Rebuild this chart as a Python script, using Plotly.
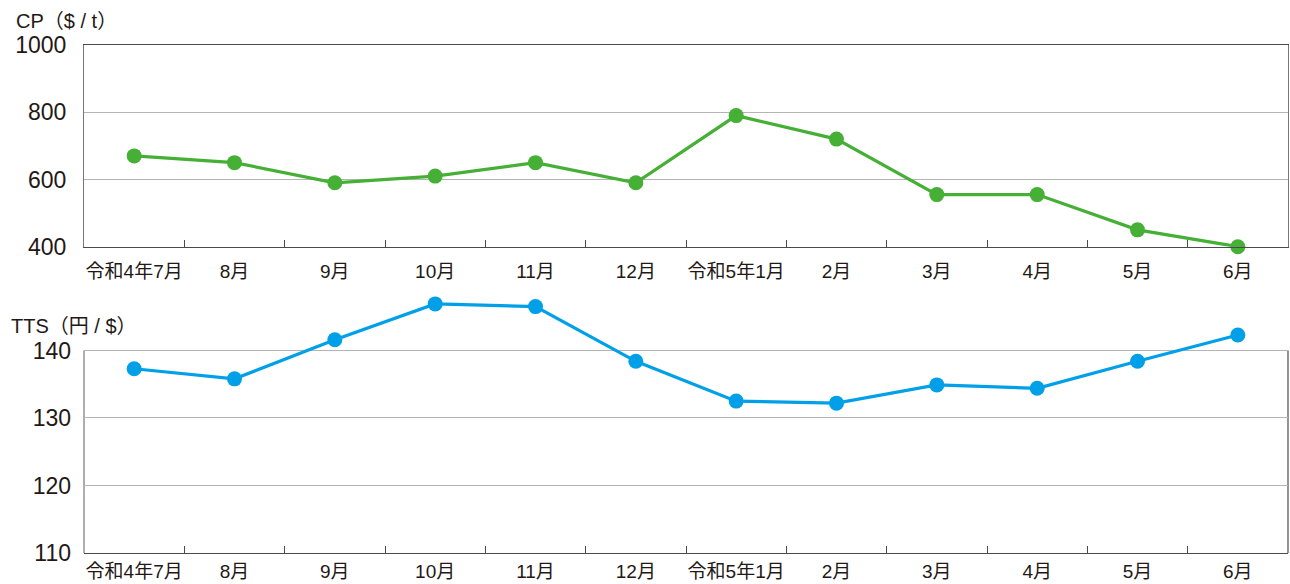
import plotly.graph_objects as go

months = ["令和4年7月", "8月", "9月", "10月", "11月", "12月",
          "令和5年1月", "2月", "3月", "4月", "5月", "6月"]
cp_values = [670, 650, 590, 610, 650, 590, 790, 720, 555, 555, 450, 400]
tts_values = [137.3, 135.8, 141.6, 146.9, 146.5, 138.4, 132.5, 132.2, 134.9, 134.4, 138.4, 142.3]
cp_ticks = [400, 600, 800, 1000]
tts_ticks = [110, 120, 130, 140]

GREEN = "#45b035"
BLUE = "#00a0e9"
TXT = "#231815"
FONT = "Liberation Sans, Arial, Noto Sans CJK JP"
GRID = "#b4b4b4"
DARK = "#4a4a4a"

fig = go.Figure()

fig.add_trace(go.Scatter(
    x=months, y=cp_values, xaxis="x", yaxis="y", mode="lines+markers",
    line=dict(color=GREEN, width=3.2), marker=dict(color=GREEN, size=15),
    cliponaxis=False, showlegend=False, hoverinfo="x+y"))

fig.add_trace(go.Scatter(
    x=months, y=tts_values, xaxis="x2", yaxis="y2", mode="lines+markers",
    line=dict(color=BLUE, width=3.2), marker=dict(color=BLUE, size=15),
    cliponaxis=False, showlegend=False, hoverinfo="x+y"))

xcommon = dict(type="category", range=[-0.5, 11.5], tickson="boundaries",
               ticks="inside", ticklen=7, tickcolor=DARK, showgrid=False,
               showline=True, linecolor=DARK, linewidth=1.2, tickangle=0,
               tickfont=dict(family=FONT, size=19, color=TXT),
               automargin=False, fixedrange=True)

ycommon = dict(showgrid=True, gridcolor=GRID, gridwidth=1.2, ticks="",
               ticklabelstandoff=12, automargin=False,
               tickfont=dict(family=FONT, size=23, color=TXT), fixedrange=True)

fig.update_layout(
    width=1290, height=584,
    margin=dict(l=84, r=2, t=45, b=31),
    paper_bgcolor="white", plot_bgcolor="white",
    xaxis=dict(**xcommon, domain=[0, 1], anchor="y", mirror=True, ticklabelstandoff=7),
    yaxis=dict(**ycommon, domain=[0.603, 1], range=[400, 1000], tickvals=cp_ticks,
               showline=True, linecolor="#777", linewidth=1.2, mirror=True),
    xaxis2=dict(**xcommon, domain=[0, 1], anchor="y2", ticklabelstandoff=1),
    yaxis2=dict(**ycommon, domain=[0, 0.5116], range=[110, 148.5],
                tickvals=tts_ticks, showline=False),
    shapes=[
        dict(type="line", xref="x2 domain", yref="y2", x0=0, x1=1, y0=140, y1=140,
             line=dict(color=DARK, width=1.2), layer="below"),
        dict(type="line", xref="x2 domain", yref="y2", x0=0, x1=0, y0=110, y1=140,
             line=dict(color="#777", width=1.2), layer="below"),
        dict(type="line", xref="x2 domain", yref="y2", x0=1, x1=1, y0=110, y1=140,
             line=dict(color=DARK, width=1.2), layer="below"),
    ],
    annotations=[
        dict(text="CP（$ / t）", xref="paper", yref="paper", x=-0.058, y=1.0,
             xanchor="left", yanchor="bottom", yshift=11, showarrow=False,
             font=dict(family=FONT, size=20, color=TXT)),
        dict(text="TTS（円 / $）", xref="paper", yref="y2", x=-0.062, y=140,
             xanchor="left", yanchor="bottom", yshift=11, showarrow=False,
             font=dict(family=FONT, size=20, color=TXT)),
    ],
)

fig.write_html(
    "out.html",
    config={"displayModeBar": False},
    post_script="document.body.style.margin='0px';"
                "document.documentElement.style.overflow='hidden';"
                "document.body.style.overflow='hidden';",
)
